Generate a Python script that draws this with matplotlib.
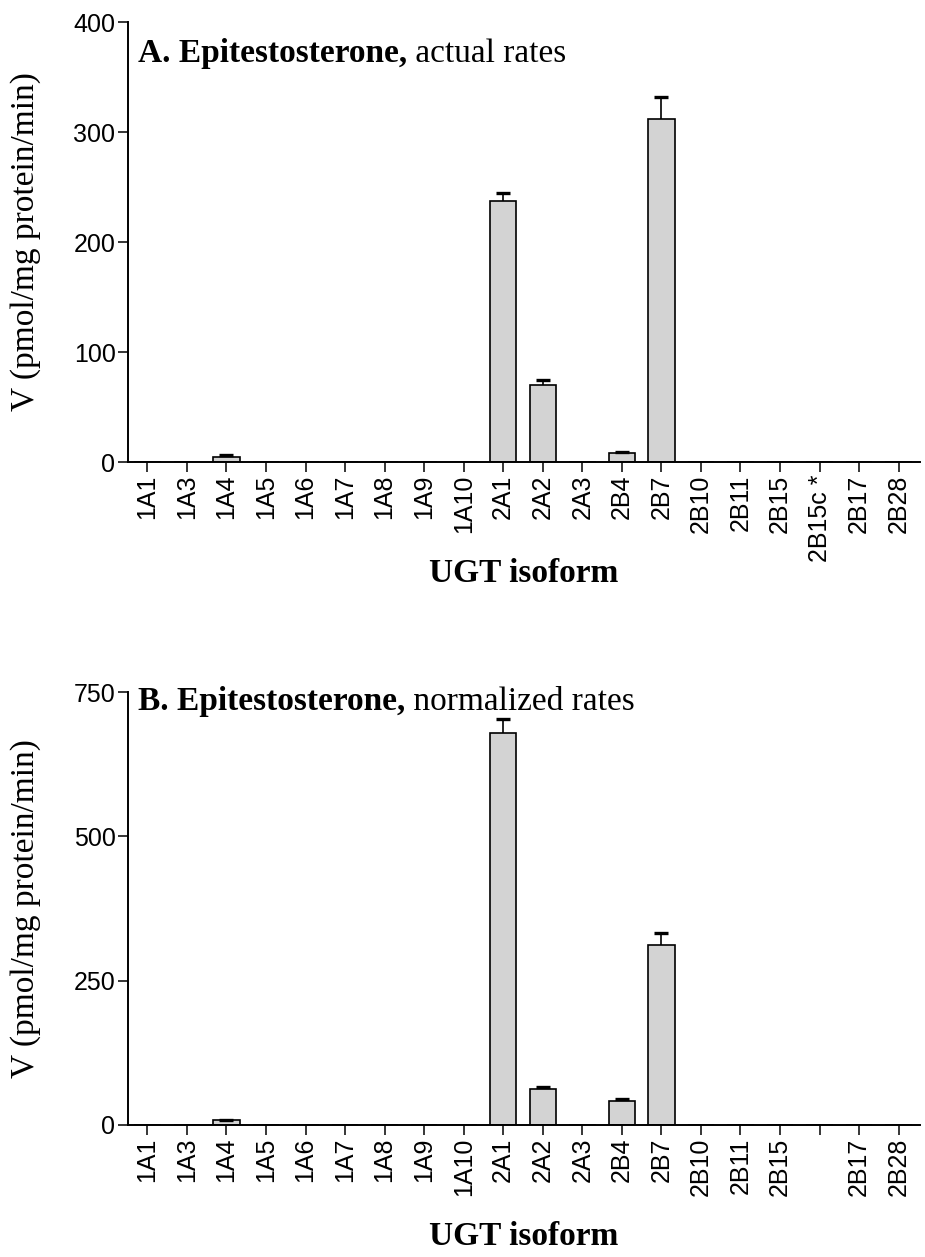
import matplotlib.pyplot as plt
import numpy as np

# UGT isoforms on the x axis
isoforms = ['1A1', '1A3', '1A4', '1A5', '1A6', '1A7', '1A8', '1A9', '1A10',
            '2A1', '2A2', '2A3', '2B4', '2B7', '2B10', '2B11', '2B15',
            '2B15c *', '2B17', '2B28']
# panel B has no label at the 2B15c position
isoforms_b = [s if s != '2B15c *' else '' for s in isoforms]

# A. actual rates (pmol/mg protein/min), upper SD
rates_a = [0, 0, 5, 0, 0, 0, 0, 0, 0, 237, 70, 0, 8.5, 312, 0, 0, 0, 0, 0, 0]
err_a = [0, 0, 1, 0, 0, 0, 0, 0, 0, 8, 5, 0, 1, 20, 0, 0, 0, 0, 0, 0]

# B. normalized rates
rates_b = [0, 0, 8, 0, 0, 0, 0, 0, 0, 679, 62, 0, 42, 312, 0, 0, 0, 0, 0, 0]
err_b = [0, 0, 1.5, 0, 0, 0, 0, 0, 0, 24, 4, 0, 3, 20, 0, 0, 0, 0, 0, 0]

W, H = 925, 1257
fig = plt.figure(figsize=(W / 100, H / 100), dpi=100)

serif = 'Liberation Serif'
sans = 'Liberation Sans'


def px_axes(left, right, top, bottom):
    return [left / W, 1 - bottom / H, (right - left) / W, (bottom - top) / H]


def draw_panel(ax, rates, err, labels, ymax, yticks, title_bold, title_rest,
               title_y, xlabel_y):
    x = np.arange(len(rates))
    rates = np.array(rates, dtype=float)
    err = np.array(err, dtype=float)
    ax.bar(x, rates, width=0.67, color='#d3d3d3', edgecolor='black',
           linewidth=1.2, zorder=2)

    # upper error bars only, no cap at the bar top
    m = err > 0
    _, caps, _ = ax.errorbar(x[m], rates[m], yerr=[np.zeros(m.sum()), err[m]],
                             fmt='none', ecolor='black', elinewidth=1.2,
                             capsize=5, capthick=2.4, zorder=3)
    caps[0].set_visible(False)

    ax.set_xlim(-0.49, 19.54)
    ax.set_ylim(0, ymax)
    ax.set_yticks(yticks)
    ax.set_xticks(x)
    ax.set_xticklabels(labels, rotation=90, fontfamily=sans, fontsize=18)
    for lab in ax.get_yticklabels():
        lab.set_fontfamily(sans)
        lab.set_fontsize(18)

    for side in ['top', 'right']:
        ax.spines[side].set_visible(False)
    for side in ['left', 'bottom']:
        ax.spines[side].set_linewidth(1.4)
    ax.tick_params(axis='both', direction='out', length=7, width=1.1, pad=2)

    t1 = ax.text(0.0126, title_y, title_bold, transform=ax.transAxes,
                 fontfamily=serif, fontweight='bold', fontsize=24,
                 va='baseline', ha='left')
    ax.annotate(title_rest, xy=(1, 0), xycoords=t1, va='bottom', ha='left',
                fontfamily=serif, fontsize=24)

    pos = ax.get_position()
    fig.text(pos.x0 + pos.width / 2, 1 - xlabel_y / H, 'UGT isoform',
             fontfamily=serif, fontweight='bold', fontsize=24,
             ha='center', va='baseline')
    fig.text(26 / W, pos.y0 + pos.height / 2, 'V (pmol/mg protein/min)',
             fontfamily=serif, fontsize=24, rotation=90,
             ha='center', va='center')


ax_a = fig.add_axes(px_axes(128, 920, 22, 462))
draw_panel(ax_a, rates_a, err_a, isoforms, 400, [0, 100, 200, 300, 400],
           'A. Epitestosterone,', ' actual rates', 0.909, 582)

ax_b = fig.add_axes(px_axes(128, 920, 692, 1125))
draw_panel(ax_b, rates_b, err_b, isoforms_b, 750, [0, 250, 500, 750],
           'B. Epitestosterone,', ' normalized rates', 0.958, 1245)

fig.savefig('out.png', dpi=100)
